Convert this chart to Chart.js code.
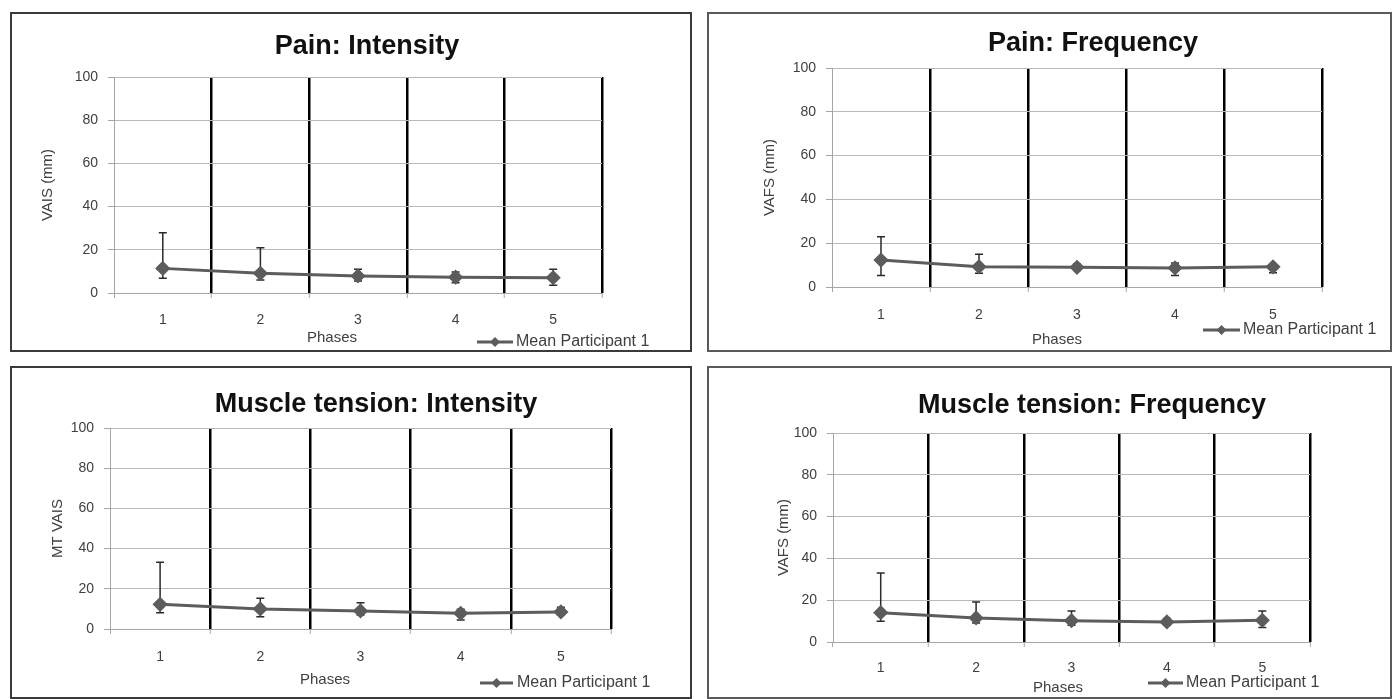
<!DOCTYPE html>
<html>
<head>
<meta charset="utf-8">
<script src="https://cdn.jsdelivr.net/npm/chart.js@4.4.1/dist/chart.umd.min.js"></script>
<style>
  html, body { margin: 0; padding: 0; background: #fff; }
  body { width: 1394px; height: 699px; position: relative; overflow: hidden; }
  .panel { position: absolute; box-sizing: border-box; background: #fff; }
  .panel canvas { position: absolute; left: 0; top: 0; }
</style>
</head>
<body>
<script>
// ---- Data ----
const phases = ['1', '2', '3', '4', '5'];

const painIntensityMean = [11.4, 9.1, 7.9, 7.3, 7.1];
const painIntensityLow  = [6.8, 6.0, 5.6, 4.8, 3.6];
const painIntensityHigh = [27.9, 21.0, 11.0, 9.7, 11.0];

const painFrequencyMean = [12.3, 9.3, 9.0, 8.7, 9.2];
const painFrequencyLow  = [5.3, 6.3, 7.5, 5.3, 6.5];
const painFrequencyHigh = [23.0, 15.0, 10.5, 11.0, 10.5];

const mtIntensityMean = [12.3, 10.0, 9.0, 7.8, 8.5];
const mtIntensityLow  = [8.1, 6.1, 7.0, 4.5, 7.0];
const mtIntensityHigh = [33.2, 15.3, 13.1, 9.8, 10.8];

const mtFrequencyMean = [14.0, 11.5, 10.2, 9.6, 10.4];
const mtFrequencyLow  = [9.9, 9.1, 8.0, 8.0, 6.9];
const mtFrequencyHigh = [33.0, 19.1, 14.8, 11.2, 14.8];

const yTicks = { min: 0, max: 100, step: 20 };
const seriesName = 'Mean Participant 1';
const xAxisTitle = 'Phases';

const FONT = "'Liberation Sans', Arial, sans-serif";
const LINE_COLOR = '#5c5c5c';
const TEXT_COLOR = '#404040';

// ---- Plugins ----
const errorBarPlugin = {
  id: 'errorBars',
  beforeDatasetsDraw(chart, args, opts) {
    const meta = chart.getDatasetMeta(0);
    const y = chart.scales.y;
    const ctx = chart.ctx;
    ctx.save();
    ctx.strokeStyle = opts.color || '#222';
    ctx.lineWidth = 1.5;
    meta.data.forEach((pt, i) => {
      const x = pt.x;
      const yl = y.getPixelForValue(opts.low[i]);
      const yh = y.getPixelForValue(opts.high[i]);
      ctx.beginPath();
      ctx.moveTo(x, yl); ctx.lineTo(x, yh);
      ctx.moveTo(x - 4, yl); ctx.lineTo(x + 4, yl);
      ctx.moveTo(x - 4, yh); ctx.lineTo(x + 4, yh);
      ctx.stroke();
    });
    ctx.restore();
  }
};

const extrasPlugin = {
  id: 'extras',
  afterLayout(chart, args, opts) {
    const tb = chart.titleBlock;
    if (tb && opts.titleX != null) {
      const dx = opts.titleX - (tb.left + tb.right) / 2;
      tb.left += dx; tb.right += dx;
    }
  },
  afterDraw(chart, args, opts) {
    const ctx = chart.ctx;
    ctx.save();
    // x-axis title
    ctx.fillStyle = TEXT_COLOR;
    ctx.font = '15px ' + FONT;
    ctx.textAlign = 'center';
    ctx.textBaseline = 'middle';
    ctx.fillText(opts.xTitle, opts.phases.x, opts.phases.y);
    // legend
    const lg = opts.legend;
    const ds = chart.data.datasets[0];
    ctx.strokeStyle = ds.borderColor;
    ctx.lineWidth = 3;
    ctx.beginPath();
    ctx.moveTo(lg.x1, lg.y); ctx.lineTo(lg.x2, lg.y);
    ctx.stroke();
    const cx = (lg.x1 + lg.x2) / 2, r = 5;
    ctx.fillStyle = ds.pointBackgroundColor;
    ctx.beginPath();
    ctx.moveTo(cx, lg.y - r); ctx.lineTo(cx + r, lg.y); ctx.lineTo(cx, lg.y + r); ctx.lineTo(cx - r, lg.y);
    ctx.closePath(); ctx.fill();
    ctx.fillStyle = TEXT_COLOR;
    ctx.font = '16px ' + FONT;
    ctx.textAlign = 'left';
    ctx.fillText(ds.label, lg.tx, lg.y);
    ctx.restore();
  }
};

// ---- Panel builder (positions in page coordinates) ----
function buildPanel(spec) {
  const bw = 2;
  const div = document.createElement('div');
  div.className = 'panel';
  div.style.left = spec.box.l + 'px';
  div.style.top = spec.box.t + 'px';
  div.style.width = (spec.box.r - spec.box.l) + 'px';
  div.style.height = (spec.box.b - spec.box.t) + 'px';
  div.style.border = bw + 'px solid ' + spec.borderColor;
  document.body.appendChild(div);
  const ox = spec.box.l + bw, oy = spec.box.t + bw;
  const W = spec.box.r - spec.box.l - 2 * bw;
  const H = spec.box.b - spec.box.t - 2 * bw;
  const canvas = document.createElement('canvas');
  canvas.width = W; canvas.height = H;
  canvas.style.width = W + 'px'; canvas.style.height = H + 'px';
  div.appendChild(canvas);

  const pl = spec.plot.l - ox, pt = spec.plot.t - oy, pr = spec.plot.r - ox, pb = spec.plot.b - oy;
  const titleSize = 27, titleLH = titleSize * 1.2;
  const tPadTop = (spec.titleY - oy) - titleLH / 2;
  const tPadBottom = pt - tPadTop - titleLH;
  const xAxisH = H - pb;
  const yTitleLH = 15 * 1.2;
  const yTitlePad = (spec.yTitleX - ox) - yTitleLH / 2;
  const xTickLH = 14 * 1.2;
  const xTickPad = (spec.xTickY - oy) - pb - 5 - xTickLH / 2;

  new Chart(canvas, {
    type: 'line',
    data: {
      labels: phases,
      datasets: [{
        label: seriesName,
        data: spec.mean,
        borderColor: LINE_COLOR,
        backgroundColor: LINE_COLOR,
        pointBackgroundColor: LINE_COLOR,
        pointBorderColor: LINE_COLOR,
        borderWidth: 3,
        pointStyle: 'rectRot',
        pointRadius: 5.5,
        tension: 0,
        fill: false
      }]
    },
    options: {
      responsive: false,
      animation: false,
      layout: { padding: { left: 0, top: 0, right: W - pr, bottom: 0 } },
      plugins: {
        legend: { display: false },
        tooltip: { enabled: false },
        title: {
          display: true,
          text: spec.title,
          color: '#111',
          font: { family: FONT, size: titleSize, weight: 'bold', lineHeight: 1.2 },
          padding: { top: tPadTop, bottom: tPadBottom }
        },
        errorBars: { low: spec.low, high: spec.high, color: '#2a2a2a' },
        extras: {
          titleX: spec.titleX - ox,
          xTitle: xAxisTitle,
          phases: { x: spec.phases.x - ox, y: spec.phases.y - oy },
          legend: { x1: spec.legend.x1 - ox, x2: spec.legend.x2 - ox, y: spec.legend.y - oy, tx: spec.legend.tx - ox }
        }
      },
      scales: {
        x: {
          type: 'category',
          offset: true,
          z: 0,
          afterFit(s) { s.height = xAxisH; },
          grid: {
            offset: true,
            drawTicks: true,
            tickLength: 5,
            tickColor: '#a6a6a6',
            tickWidth: 1,
            color: (c) => c.index === 0 ? 'rgba(0,0,0,0)' : '#000',
            lineWidth: (c) => c.index === 0 ? 1 : 2.5
          },
          border: { display: true, color: '#a6a6a6', width: 1 },
          ticks: { color: TEXT_COLOR, font: { family: FONT, size: 14 }, padding: xTickPad, maxRotation: 0 }
        },
        y: {
          min: yTicks.min,
          max: yTicks.max,
          z: -1,
          afterFit(s) { s.width = pl; },
          grid: { color: '#b8b8b8', lineWidth: 1, drawTicks: true, tickLength: 6, tickColor: '#a6a6a6' },
          border: { display: true, color: '#a6a6a6', width: 1 },
          ticks: { stepSize: yTicks.step, color: TEXT_COLOR, font: { family: FONT, size: 14 }, padding: 10 },
          title: {
            display: true,
            text: spec.yTitle,
            color: TEXT_COLOR,
            font: { family: FONT, size: 15, lineHeight: 1.2 },
            padding: { top: yTitlePad, bottom: 0 }
          }
        }
      }
    },
    plugins: [errorBarPlugin, extrasPlugin]
  });
}

buildPanel({
  title: 'Pain: Intensity', yTitle: 'VAIS (mm)',
  mean: painIntensityMean, low: painIntensityLow, high: painIntensityHigh,
  box: { l: 10, t: 12, r: 692, b: 352 }, borderColor: '#3a3a3a',
  plot: { l: 114, t: 77, r: 602, b: 293 },
  titleX: 367, titleY: 47, yTitleX: 48, xTickY: 320,
  phases: { x: 332, y: 338 },
  legend: { x1: 477, x2: 513, y: 342, tx: 516 }
});
buildPanel({
  title: 'Pain: Frequency', yTitle: 'VAFS (mm)',
  mean: painFrequencyMean, low: painFrequencyLow, high: painFrequencyHigh,
  box: { l: 707, t: 12, r: 1392, b: 352 }, borderColor: '#5a5a5a',
  plot: { l: 832, t: 68, r: 1322, b: 287 },
  titleX: 1093, titleY: 44, yTitleX: 770, xTickY: 315,
  phases: { x: 1057, y: 340 },
  legend: { x1: 1203, x2: 1240, y: 330, tx: 1243 }
});
buildPanel({
  title: 'Muscle tension: Intensity', yTitle: 'MT VAIS',
  mean: mtIntensityMean, low: mtIntensityLow, high: mtIntensityHigh,
  box: { l: 10, t: 366, r: 692, b: 699 }, borderColor: '#3a3a3a',
  plot: { l: 110, t: 428, r: 611, b: 629 },
  titleX: 376, titleY: 405, yTitleX: 58, xTickY: 657,
  phases: { x: 325, y: 680 },
  legend: { x1: 480, x2: 513, y: 683, tx: 517 }
});
buildPanel({
  title: 'Muscle tension: Frequency', yTitle: 'VAFS (mm)',
  mean: mtFrequencyMean, low: mtFrequencyLow, high: mtFrequencyHigh,
  box: { l: 707, t: 366, r: 1392, b: 699 }, borderColor: '#5a5a5a',
  plot: { l: 833, t: 433, r: 1310, b: 642 },
  titleX: 1092, titleY: 406, yTitleX: 784, xTickY: 668,
  phases: { x: 1058, y: 688 },
  legend: { x1: 1148, x2: 1183, y: 683, tx: 1186 }
});
</script>
</body>
</html>
